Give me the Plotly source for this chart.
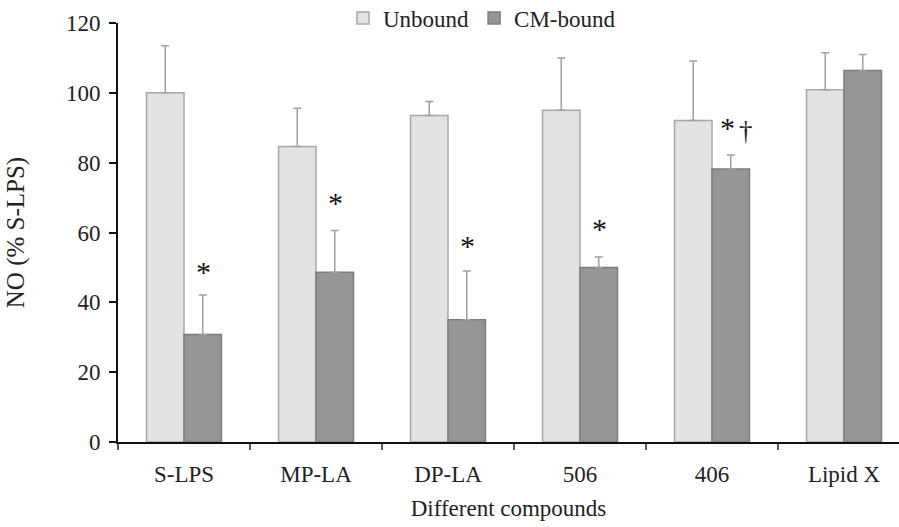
import plotly.graph_objects as go

categories = ["S-LPS", "MP-LA", "DP-LA", "506", "406", "Lipid X"]
unbound = [100.0, 84.6, 93.5, 95.0, 92.1, 100.9]
unbound_err = [13.5, 11.0, 4.0, 15.0, 17.0, 10.6]
cm_bound = [30.8, 48.6, 35.0, 50.0, 78.2, 106.4]
cm_err = [11.3, 12.0, 14.0, 3.0, 4.0, 4.6]
sig_marks = ["*", "*", "*", "*", "*", ""]
dagger_marks = ["", "", "", "", "\u2020", ""]
sig_y = [49.0, 68.8, 56.7, 61.5, 90.5, None]
dagger_y = [None, None, None, None, 89.0, None]

FONT = "Liberation Serif, Times New Roman, serif"

fig = go.Figure()
fig.add_trace(go.Bar(
    x=categories, y=unbound, name="Unbound",
    marker=dict(color="#e2e2e2", line=dict(color="#a8a8a8", width=1.5)),
    error_y=dict(type="data", symmetric=False, array=unbound_err,
                 arrayminus=[0] * len(unbound), color="#a0a0a0",
                 thickness=1.5, width=4),
))
fig.add_trace(go.Bar(
    x=categories, y=cm_bound, name="CM-bound",
    marker=dict(color="#969696", line=dict(color="#7c7c7c", width=1.5)),
    error_y=dict(type="data", symmetric=False, array=cm_err,
                 arrayminus=[0] * len(cm_bound), color="#a0a0a0",
                 thickness=1.5, width=4),
))

annotations = []
for i, c in enumerate(categories):
    if sig_marks[i]:
        annotations.append(dict(
            x=i, y=sig_y[i], xref="x", yref="y", text=sig_marks[i],
            showarrow=False, xshift=19 if not dagger_marks[i] else 15,
            yshift=-1, font=dict(family=FONT, size=30, color="#111111"),
        ))
    if dagger_marks[i]:
        annotations.append(dict(
            x=i, y=dagger_y[i], xref="x", yref="y", text=dagger_marks[i],
            showarrow=False, xshift=34, yshift=0,
            font=dict(family=FONT, size=27, color="#222222"),
        ))

fig.update_layout(
    width=899, height=527,
    margin=dict(l=118, r=0, t=23, b=85, autoexpand=False),
    paper_bgcolor="white", plot_bgcolor="white",
    barmode="group", bargap=0.432, bargroupgap=0,
    font=dict(family=FONT, size=23, color="#222222"),
    showlegend=True,
    legend=dict(orientation="h", x=0.466, xanchor="center", y=1.012,
                yanchor="middle", font=dict(family=FONT, size=23, color="#222222"),
                bgcolor="rgba(0,0,0,0)", itemwidth=30, tracegroupgap=0),
    annotations=annotations,
)
fig.update_xaxes(
    range=[-0.5, 5.4167], showline=True, linecolor="#111111", linewidth=2,
    ticks="outside", tickson="boundaries", ticklen=6, tickcolor="#555555",
    tickwidth=1.5, showgrid=False, zeroline=False, ticklabelstandoff=10,
    tickfont=dict(family=FONT, size=23, color="#222222"),
    title=dict(text="Different compounds", standoff=14,
               font=dict(family=FONT, size=23, color="#222222")),
)
fig.update_yaxes(
    range=[0, 120], dtick=20, showline=True, linecolor="#111111", linewidth=2,
    ticks="outside", ticklen=7, tickcolor="#111111", tickwidth=1.5,
    showgrid=False, zeroline=False, ticklabelstandoff=4,
    tickfont=dict(family=FONT, size=23, color="#222222"),
    title=dict(text="NO (% S-LPS)", standoff=34,
               font=dict(family=FONT, size=25, color="#222222")),
)

fig.write_html("out.html")
